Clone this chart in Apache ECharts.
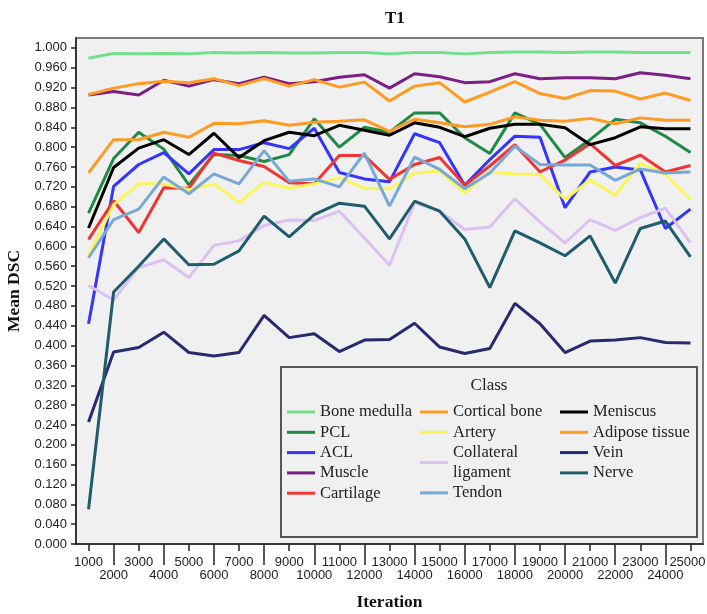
<!DOCTYPE html>
<html>
<head>
<meta charset="utf-8">
<script src="https://cdn.jsdelivr.net/npm/echarts@6/dist/echarts.min.js"></script>
<style>html,body{margin:0;padding:0;background:#fff;}#c{width:707px;height:614px;}</style>
</head>
<body>
<div id="c"></div>
<script>
const iterations = ['1000','2000','3000','4000','5000','6000','7000','8000','9000','10000','11000','12000','13000','14000','15000','16000','17000','18000','19000','20000','21000','22000','23000','24000','25000'];
const yTicks = [0, 0.04, 1.0];

const boneMedulla = [0.979,0.989,0.988,0.989,0.988,0.991,0.990,0.991,0.990,0.990,0.991,0.991,0.988,0.991,0.991,0.988,0.991,0.992,0.992,0.991,0.992,0.992,0.991,0.991,0.991];
const pcl = [0.667,0.777,0.830,0.796,0.724,0.785,0.783,0.771,0.785,0.857,0.800,0.840,0.830,0.869,0.869,0.819,0.787,0.869,0.846,0.779,0.815,0.856,0.849,0.822,0.789];
const acl = [0.444,0.721,0.765,0.789,0.746,0.795,0.795,0.809,0.797,0.838,0.749,0.736,0.730,0.827,0.809,0.723,0.775,0.822,0.820,0.678,0.750,0.760,0.754,0.636,0.675];
const muscle = [0.905,0.912,0.905,0.935,0.923,0.936,0.928,0.941,0.928,0.932,0.941,0.946,0.919,0.948,0.942,0.930,0.932,0.948,0.938,0.940,0.940,0.938,0.950,0.945,0.938];
const cartilage = [0.614,0.692,0.628,0.718,0.717,0.788,0.773,0.761,0.728,0.726,0.783,0.783,0.735,0.765,0.779,0.723,0.762,0.805,0.750,0.774,0.807,0.763,0.784,0.750,0.763];
const corticalBone = [0.906,0.919,0.928,0.933,0.930,0.938,0.924,0.938,0.923,0.936,0.921,0.931,0.893,0.923,0.930,0.891,0.911,0.932,0.908,0.898,0.914,0.913,0.897,0.909,0.894];
const artery = [0.583,0.684,0.726,0.726,0.714,0.726,0.688,0.729,0.717,0.726,0.738,0.717,0.716,0.748,0.752,0.708,0.750,0.746,0.745,0.695,0.734,0.703,0.768,0.745,0.695];
const collateral = [0.521,0.492,0.557,0.573,0.537,0.602,0.611,0.642,0.653,0.652,0.671,0.617,0.562,0.688,0.671,0.634,0.639,0.696,0.649,0.607,0.654,0.632,0.658,0.677,0.607];
const tendon = [0.577,0.654,0.675,0.740,0.706,0.746,0.726,0.793,0.731,0.736,0.720,0.788,0.681,0.780,0.755,0.716,0.748,0.802,0.765,0.764,0.764,0.733,0.756,0.748,0.750];
const meniscus = [0.637,0.759,0.798,0.815,0.785,0.828,0.779,0.813,0.830,0.823,0.844,0.834,0.824,0.849,0.840,0.821,0.838,0.846,0.846,0.839,0.805,0.819,0.841,0.837,0.837];
const adipose = [0.748,0.815,0.815,0.830,0.820,0.848,0.847,0.853,0.844,0.850,0.852,0.855,0.832,0.856,0.849,0.841,0.846,0.861,0.854,0.852,0.858,0.847,0.859,0.854,0.854];
const vein = [0.246,0.387,0.396,0.427,0.386,0.379,0.386,0.461,0.416,0.424,0.388,0.411,0.412,0.445,0.397,0.384,0.394,0.485,0.444,0.386,0.409,0.411,0.416,0.406,0.405];
const nerve = [0.070,0.508,0.560,0.615,0.563,0.564,0.591,0.661,0.619,0.664,0.687,0.681,0.615,0.691,0.671,0.615,0.517,0.631,0.607,0.581,0.621,0.526,0.636,0.651,0.579];

const seriesDefs = [
  ['Bone medulla', boneMedulla, '#72e08a'],
  ['PCL', pcl, '#1e8a45'],
  ['ACL', acl, '#3434ff'],
  ['Muscle', muscle, '#7a1f85'],
  ['Cartilage', cartilage, '#f23333'],
  ['Cortical bone', corticalBone, '#ff9a22'],
  ['Artery', artery, '#fbf55a'],
  ['Collateral ligament', collateral, '#dcc0f2'],
  ['Tendon', tendon, '#78a8d6'],
  ['Meniscus', meniscus, '#000000'],
  ['Adipose tissue', adipose, '#ff9a22'],
  ['Vein', vein, '#262a6e'],
  ['Nerve', nerve, '#1f5d6c']
];
const legendCol1 = ['Bone medulla','PCL','ACL','Muscle','Cartilage'];
const legendCol2 = ['Cortical bone','Artery','Collateral ligament','Tendon'];
const legendCol3 = ['Meniscus','Adipose tissue','Vein','Nerve'];

const chart = echarts.init(document.getElementById('c'), null, {renderer: 'canvas'});
const legendBase = (left, data) => ({
  data: data, orient: 'vertical', left: left, top: 402, padding: 0, itemGap: 0.3,
  icon: 'rect', itemWidth: 28, itemHeight: 3, selectedMode: false, z: 10,
  textStyle: {fontFamily: 'Liberation Serif', fontSize: 16.5, color: '#222', lineHeight: 20},
  formatter: n => n === 'Collateral ligament' ? 'Collateral\nligament' : n
});
const axisFont = {fontFamily: 'Liberation Sans', fontSize: 13, color: '#222'};
const lastIdx = iterations.length - 1;
const option = {
  animation: false,
  backgroundColor: '#ffffff',
  title: {text: 'T1', left: 380, top: 5, textStyle: {fontFamily: 'Liberation Serif', fontWeight: 'bold', fontSize: 17, color: '#111'}},
  grid: {left: 76, right: 4, top: 38, bottom: 70, outerBoundsMode: 'none', containLabel: false,
         show: true, backgroundColor: '#f0f0f0', borderColor: '#7a7a7a', borderWidth: 2},
  legend: [legendBase(287, legendCol1), legendBase(420, legendCol2), legendBase(560, legendCol3)],
  graphic: [
    {type: 'rect', z: 5, shape: {x: 281, y: 367, width: 416, height: 170}, style: {fill: '#f0f0f0', stroke: '#555', lineWidth: 2}},
    {type: 'text', z: 6, x: 489, y: 386, style: {text: 'Class', fontFamily: 'Liberation Serif', fontSize: 17, fill: '#222', align: 'center', verticalAlign: 'middle'}}
  ],
  xAxis: [
    {type: 'category', data: iterations, boundaryGap: true,
     name: 'Iteration', nameLocation: 'middle', nameGap: 49,
     nameTextStyle: {fontFamily: 'Liberation Serif', fontWeight: 'bold', fontSize: 17.5, color: '#111'},
     axisLine: {show: true, lineStyle: {color: '#222', width: 1.5}},
     axisTick: {show: true, alignWithLabel: true, interval: 0, length: 7, lineStyle: {color: '#222', width: 1.5}},
     axisLabel: Object.assign({interval: 0, margin: 11.5, lineHeight: 13.5, hideOverlap: false,
       formatter: (v, i) => (i === lastIdx ? '{last|' + v + '}' : (i % 2 === 1 ? '\n' + v : v)),
       rich: {last: {fontFamily: 'Liberation Sans', fontSize: 13, color: '#222', padding: [0, 6, 0, 0], lineHeight: 13.5}}}, axisFont),
     splitLine: {show: false}},
    {type: 'category', data: iterations, boundaryGap: true, position: 'bottom',
     axisLine: {show: false},
     axisTick: {show: true, alignWithLabel: true, interval: (i) => i % 2 === 1, length: 21, lineStyle: {color: '#222', width: 1.5}},
     axisLabel: {show: false}, splitLine: {show: false}}
  ],
  yAxis: {
    type: 'value', min: yTicks[0], max: 1.02, interval: yTicks[1],
    name: 'Mean DSC', nameLocation: 'middle', nameGap: 48, nameRotate: 90,
    nameTextStyle: {fontFamily: 'Liberation Serif', fontWeight: 'bold', fontSize: 17.5, color: '#111'},
    axisLine: {show: true, lineStyle: {color: '#222', width: 1.5}},
    axisTick: {show: true, length: 5, lineStyle: {color: '#222', width: 1.5}},
    axisLabel: Object.assign({margin: 9, showMaxLabel: false, formatter: v => (v <= yTicks[2] + 1e-9 ? v.toFixed(3) : '')}, axisFont),
    splitLine: {show: false}
  },
  series: seriesDefs.map(([name, data, color]) => ({
    name: name, type: 'line', data: data, xAxisIndex: 0, symbol: 'none', color: color,
    lineStyle: {color: color, width: 3}, emphasis: {disabled: true}, z: 2
  }))
};
chart.setOption(option);
</script>
</body>
</html>
